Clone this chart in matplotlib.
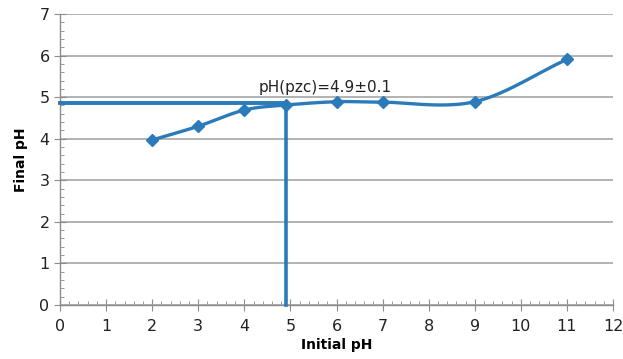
import numpy as np
import matplotlib
matplotlib.use("Agg")
import matplotlib.pyplot as plt
from matplotlib.ticker import MultipleLocator

initial_ph = [2, 3, 4, 4.9, 6, 7, 9, 11]
final_ph = [3.97, 4.30, 4.69, 4.81, 4.89, 4.88, 4.89, 5.91]
pzc = 4.9
pzc_level = 4.85
label = "pH(pzc)=4.9±0.1"

color = "#2B7BBA"

def smooth(xs, ys, n=40):
    P = np.column_stack([xs, ys]).astype(float)
    out = [P[0]]
    for i in range(len(P) - 1):
        p1 = P[i]
        p2 = P[i + 1]
        p0 = P[i - 1] if i > 0 else 2 * P[0] - P[1]
        p3 = P[i + 2] if i + 2 < len(P) else 2 * P[-1] - P[-2]
        c1 = p1 + (p2 - p0) / 6.0
        c2 = p2 - (p3 - p1) / 6.0
        t = np.linspace(0, 1, n)[1:, None]
        seg = ((1 - t) ** 3) * p1 + 3 * ((1 - t) ** 2) * t * c1 + 3 * (1 - t) * t ** 2 * c2 + t ** 3 * p2
        out.extend(seg)
    out = np.array(out)
    return out[:, 0], out[:, 1]

fig = plt.figure(figsize=(6.23, 3.59), dpi=100)
ax = fig.add_axes([0.0963, 0.1504, 0.8877, 0.8106])

ax.set_xlim(0, 12)
ax.set_ylim(0, 7)
ax.yaxis.set_major_locator(MultipleLocator(1))
ax.xaxis.set_major_locator(MultipleLocator(1))
ax.xaxis.set_minor_locator(MultipleLocator(0.2))
ax.yaxis.set_minor_locator(MultipleLocator(0.2))
ax.grid(axis="y", which="major", color="#A6A6A6", linewidth=1.2)
ax.set_axisbelow(True)

for s in ["top", "right"]:
    ax.spines[s].set_visible(False)
for s in ["left", "bottom"]:
    ax.spines[s].set_color("#8C8C8C")
    ax.spines[s].set_linewidth(1.0)

ax.tick_params(axis="both", which="major", direction="inout", length=8, color="#8C8C8C",
               labelsize=11.5, labelcolor="#222222")
ax.tick_params(axis="x", which="major", pad=6)
ax.tick_params(axis="both", which="minor", direction="in", length=3, color="#8C8C8C")

sx, sy = smooth(initial_ph, final_ph)
ax.plot(sx, sy, color=color, linewidth=2.4, zorder=3, solid_capstyle="round")
ax.plot(initial_ph, final_ph, linestyle="none", marker="D", markersize=6,
        color=color, zorder=4)

ax.plot([0, pzc], [pzc_level, pzc_level], color=color, linewidth=2.8, zorder=3, clip_on=False)
ax.plot([pzc, pzc], [0, pzc_level], color=color, linewidth=2.6, zorder=3, clip_on=False)

ax.text(4.3, 5.22, label, fontsize=11, color="#222222", va="center", ha="left")

ax.set_xlabel("Initial pH", fontsize=10, fontweight="bold", labelpad=3)
ax.set_ylabel("Final pH", fontsize=10, fontweight="bold", labelpad=8)

fig.savefig("out.png", dpi=100)
